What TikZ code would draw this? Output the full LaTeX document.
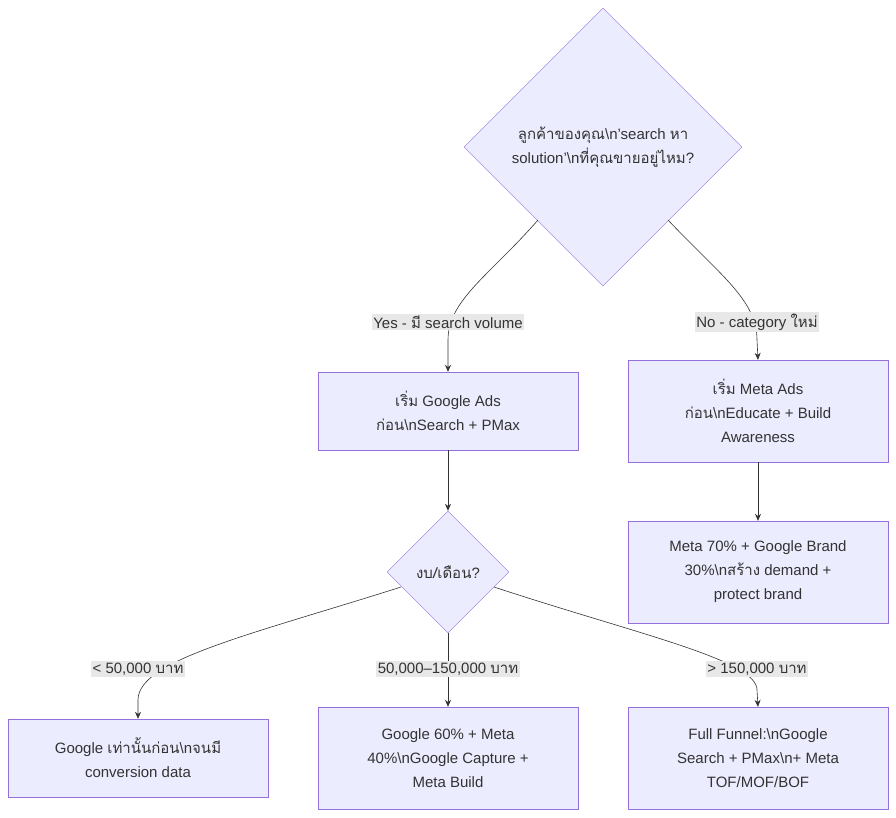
\documentclass[tikz,border=0pt]{standalone}
\usepackage{fontspec}
\setmainfont{Liberation Sans}
\newfontfamily\thaifont[Script=Thai]{Loma}
\newcommand{\T}[1]{{\thaifont #1}}
\newcommand{\bs}{\textbackslash}
\usetikzlibrary{shapes.geometric,arrows.meta}
\definecolor{nfill}{HTML}{ECECFF}
\definecolor{nline}{HTML}{9370DB}
\definecolor{txt}{HTML}{333333}
\definecolor{lbg}{HTML}{E8E8E8}
\begin{document}
\begin{tikzpicture}[x=1pt,y=-1pt,
  every node/.style={font=\fontsize{15}{24}\selectfont,text=txt},
  box/.style={draw=nline,fill=nfill,minimum width=260pt,align=center,inner sep=0pt},
  dia/.style={draw=nline,fill=nfill,diamond,inner sep=0pt,align=center},
  lab/.style={fill=lbg,inner sep=1.5pt,align=center},
  edge/.style={draw=txt,line width=0.6pt,-{Stealth[length=7pt,width=6pt]}}]
\useasboundingbox (0,0) rectangle (896,817);
\node[dia,minimum width=278pt,minimum height=278pt] (d1) at (603,147) {\T{ลูกค้าของคุณ}\bs n'search \T{หา}\\solution'\bs n\T{ที่คุณขายอยู่ไหม}?};
\node[box,minimum height=78pt] (a) at (448,411) {\T{เริ่ม} Google Ads\\\T{ก่อน}\bs nSearch + PMax};
\node[box,minimum height=102pt] (b) at (758,411) {\T{เริ่ม} Meta Ads\\\T{ก่อน}\bs nEducate + Build\\Awareness};
\node[box,minimum height=102pt] (c) at (758,572) {Meta 70\% + Google Brand\\30\%\bs n\T{สร้าง} demand +\\protect brand};
\node[dia,minimum width=122pt,minimum height=122pt] (d2) at (448,572) {\T{งบ/เดือน}?};
\node[box,minimum height=78pt] (d) at (138,758) {Google \T{เท่านั้นก่อน}\bs n\T{จนมี}\\conversion data};
\node[box,minimum height=102pt] (e) at (448,758) {Google 60\% + Meta\\40\%\bs nGoogle Capture +\\Meta Build};
\node[box,minimum height=102pt] (f) at (758,758) {Full Funnel:\bs nGoogle\\Search + PMax\bs n+ Meta\\TOF/MOF/BOF};
\coordinate (s1) at (538,220);
\coordinate (s2) at (668,220);
\coordinate (s3) at (401,587);
\coordinate (s4) at (494,587);
\draw[edge] (s1) .. controls (490,275) and (448,300) .. (448,340) -- (a.north);
\draw[edge] (s2) .. controls (720,275) and (757,300) .. (757,340) -- (b.north);
\draw[edge] (a) -- (d2);
\draw[edge] (b) -- (c);
\draw[edge] (s3) .. controls (250,635) and (138,660) .. (138,700) -- (d.north);
\draw[edge] (d2.south) -- (e.north);
\draw[edge] (s4) .. controls (640,635) and (757,660) .. (757,690) -- (f.north);
\node[lab] (l1) at (448,322) {Yes - \T{มี} search volume};
\node[lab] (l2) at (757,322) {No - category \T{ใหม่}};
\node[lab] (l3) at (138,669) {< 50,000 \T{บาท}};
\node[lab] (l4) at (448,669) {50,000–150,000 \T{บาท}};
\node[lab] (l5) at (757,669) {> 150,000 \T{บาท}};
\end{tikzpicture}
\end{document}
